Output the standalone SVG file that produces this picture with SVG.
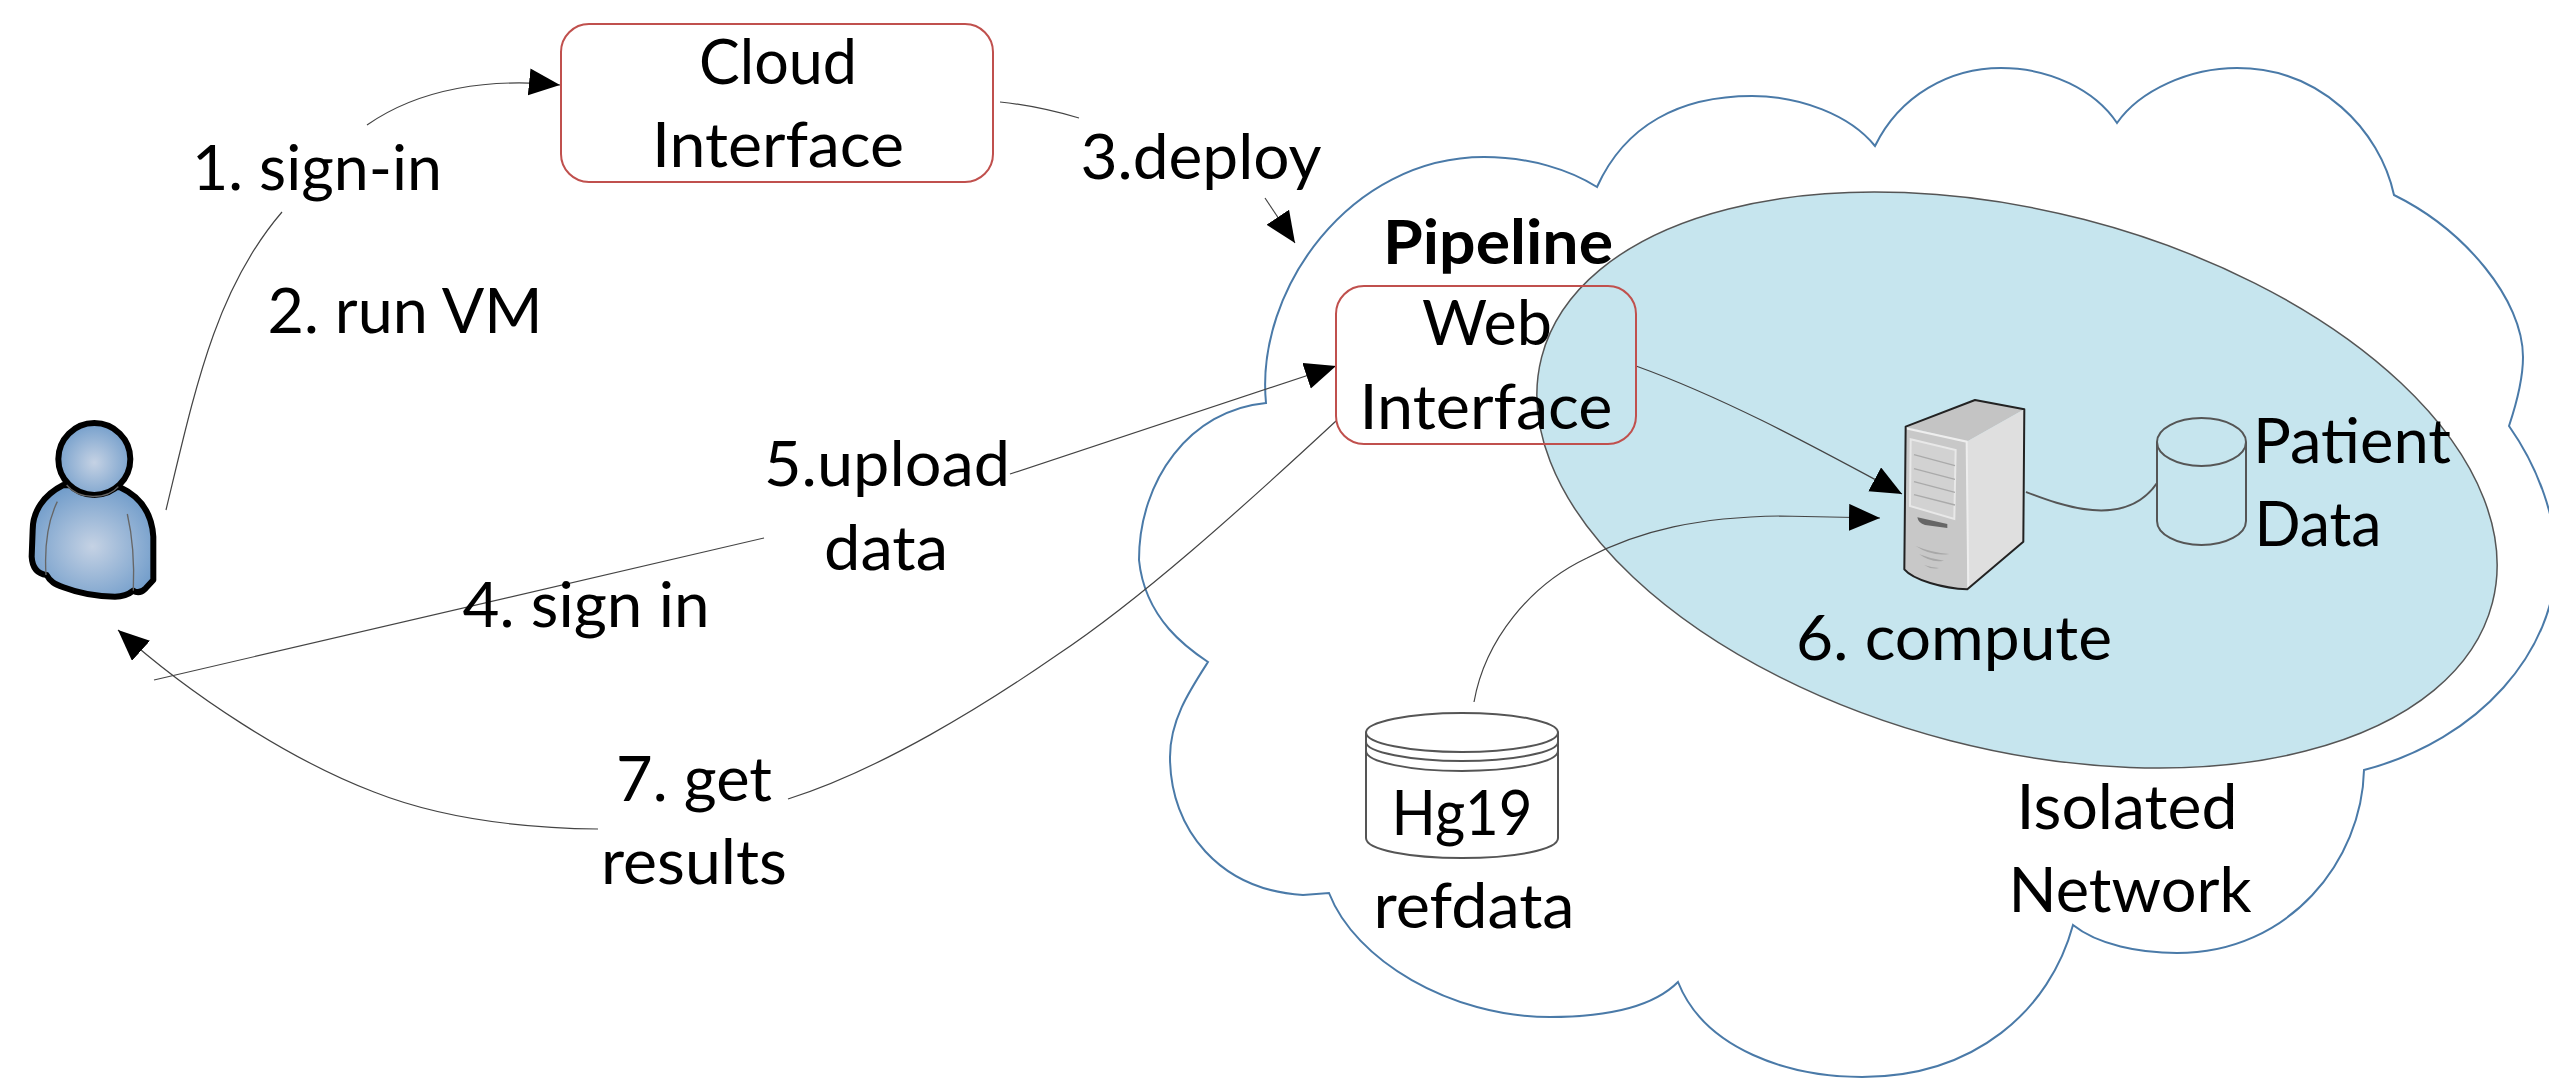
<svg xmlns="http://www.w3.org/2000/svg" width="2549" height="1079" viewBox="0 0 2549 1079">
<style>
.t{font-family:Lato,"Open Sans","Liberation Sans",sans-serif;font-size:62px;fill:#000;text-anchor:middle}
.b{font-weight:700}
.c{fill:none;stroke:#444;stroke-width:1.2}
.a{marker-end:url(#arrow)}
.box{fill:none;stroke:#c0504d;stroke-width:2}
.db{stroke:#555;stroke-width:2}
.sg{fill:none;stroke:#666;stroke-width:4}
</style>
<defs>
<marker id="arrow" markerUnits="userSpaceOnUse" markerWidth="32" markerHeight="28" refX="31" refY="13.5" orient="auto"><path d="M0,0L31,13.5L0,27z" fill="#000"/></marker>
<radialGradient id="pg" cx="0.5" cy="0.55" r="0.62"><stop offset="0" stop-color="#c5d2e4"/><stop offset="1" stop-color="#6a98c8"/></radialGradient>
</defs>
<rect width="2549" height="1079" fill="#fff"/>
<g id="isolated-network">
<path d="M1266,403C1255,290 1350,157 1484,157C1530,157 1570,170 1597,187C1625,125 1680,96 1752,96C1800,96 1850,115 1875,146C1900,95 1950,68 2001,68C2050,68 2095,90 2117,123C2140,90 2190,68 2237,68C2320,68 2380,130 2394,195C2465,230 2523,300 2523,357C2523,380 2516,405 2509,426C2540,470 2556,520 2556,560C2556,650 2480,740 2364,770C2362,860 2290,953 2177,953C2140,953 2098,945 2073,925C2050,1010 1975,1077 1862,1077C1790,1077 1705,1050 1678,982C1650,1010 1600,1017 1550,1017C1450,1017 1355,960 1329,893L1303,895C1220,890 1170,830 1170,757C1170,720 1190,690 1208,662C1190,650 1145,620 1139,560C1139,480 1190,410 1266,403Z" fill="#fff" stroke="#4a7aa8" stroke-width="2"/>
<text class="t" x="2127" y="829" textLength="221" lengthAdjust="spacingAndGlyphs">Isolated</text>
<text class="t" x="2130" y="912" textLength="243" lengthAdjust="spacingAndGlyphs">Network</text>
</g>
<g id="vm-ellipse">
<ellipse cx="2017" cy="480" rx="491" ry="269" transform="rotate(14.5 2017 480)" fill="#c6e5ee" stroke="#555" stroke-width="1.5"/>
</g>
<g id="connectors">
<path class="c a" d="M367,125C420,88 490,78 560,85"/>
<path class="c" d="M282,212C215,290 195,390 166,510"/>
<path class="c" d="M1000,102C1030,105 1055,111 1079,118"/>
<path class="c a" d="M1265,198L1295,243"/>
<path class="c a" d="M1010,474L1336,366"/>
<path class="c" d="M154,680L764,538"/>
<path class="c" d="M1336,421C1240,510 1140,600 1057,655C985,705 880,770 788,799"/>
<path class="c a" d="M598,829C520,828 440,818 374,792C290,760 190,695 118,630"/>
<path class="c a" d="M1636,366C1730,400 1820,450 1902,494"/>
<path class="c a" d="M1474,702C1485,640 1530,585 1587,558C1640,530 1700,517 1780,516L1880,518"/>
<path class="c" d="M2026,492C2060,505 2125,530 2157,483" style="stroke:#555;stroke-width:2"/>
</g>
<g id="user" transform="translate(0,380) scale(.3333)">
<path d="M190,315C130,345 98,395 98,450L95,530C97,565 115,582 140,585C150,605 165,612 190,622C250,645 300,650 345,650C370,650 390,640 400,632C412,640 425,637 437,625L460,600L460,470C455,390 410,345 360,322Z" fill="url(#pg)" stroke="#000" stroke-width="18" stroke-linejoin="round"/>
<circle cx="283" cy="237" r="108" fill="url(#pg)" stroke="#000" stroke-width="18"/>
<path class="sg" d="M200,315C235,360 320,360 355,320"/>
<path class="sg" d="M172,365C140,430 133,500 138,585"/>
<path class="sg" d="M382,402C400,480 403,560 400,632"/>
</g>
<g id="server" transform="translate(1860,370) scale(.3333)">
<path d="M137,170L345,90L493,118L320,215Z" fill="#c4c4c4"/>
<path d="M320,215L493,118L490,515L322,658Z" fill="#dfdfdf"/>
<path d="M137,170L320,215L322,658C250,655 160,630 133,598Z" fill="#c8c8c8"/>
<path d="M137,175L320,215L325,658" fill="none" stroke="#eee" stroke-width="6"/>
<path d="M137,170L345,90L493,118L490,515L322,658C250,655 160,630 133,598Z" fill="none" stroke="#222" stroke-width="6" stroke-linejoin="round"/>
<path d="M152,208L287,240L283,447L150,408Z" fill="#d2d2d2" stroke="#e8e8e8" stroke-width="6"/>
<path d="M162,254L285,287M162,296L285,328M162,335L285,367M162,374L285,405" stroke="#aaa" stroke-width="4" fill="none"/>
<path d="M172,442L262,462L262,474L195,465Q175,460 172,442Z" fill="#666"/>
<path d="M167,528Q215,548 268,552Q215,560 167,528ZM178,553Q215,568 252,572Q215,580 178,553ZM192,585Q215,592 237,594Q215,600 192,585Z" fill="#a8a8a8"/>
</g>
<g id="patient-data">
<path class="db" fill="none" d="M2157,442V521A44.500,24 0 0 0 2246,521V442"/>
<ellipse class="db" cx="2201.500" cy="442" rx="44.500" ry="24" fill="none"/>
<text class="t" x="2352" y="463" textLength="198" lengthAdjust="spacingAndGlyphs">Patient</text>
<text class="t" x="2318" y="546" textLength="127" lengthAdjust="spacingAndGlyphs">Data</text>
</g>
<g id="hg19">
<path class="db" fill="#fff" stroke-width="1.500" d="M1366,732.500V838C1366,850 1410,858 1462,858C1514,858 1558,850 1558,838V732.500Z"/>
<path class="db" fill="none" d="M1366,742C1366,752 1410,761 1462,761C1514,761 1558,752 1558,742M1366,751C1366,762 1410,771 1462,771C1514,771 1558,762 1558,751"/>
<ellipse class="db" cx="1462" cy="732.500" rx="96" ry="19.500" fill="#fff"/>
<text class="t" x="1462" y="835" textLength="141" lengthAdjust="spacingAndGlyphs">Hg19</text>
<text class="t" x="1474" y="928" textLength="201" lengthAdjust="spacingAndGlyphs">refdata</text>
</g>
<g id="cloud-interface">
<rect class="box" x="561" y="24" width="432" height="158" rx="28"/>
<text class="t" x="778" y="84" textLength="158" lengthAdjust="spacingAndGlyphs">Cloud</text>
<text class="t" x="778" y="167" textLength="252" lengthAdjust="spacingAndGlyphs">Interface</text>
</g>
<g id="pipeline-web-interface">
<rect class="box" x="1336" y="286" width="300" height="158" rx="28"/>
<text class="t b" x="1498" y="264" textLength="230" lengthAdjust="spacingAndGlyphs">Pipeline</text>
<text class="t" x="1487" y="345" textLength="130" lengthAdjust="spacingAndGlyphs">Web</text>
<text class="t" x="1486" y="429" textLength="253" lengthAdjust="spacingAndGlyphs">Interface</text>
</g>
<g id="labels">
<text class="t" x="317" y="190" textLength="250" lengthAdjust="spacingAndGlyphs">1. sign-in</text>
<text class="t" x="405" y="333" textLength="275" lengthAdjust="spacingAndGlyphs">2. run VM</text>
<text class="t" x="1201" y="179" textLength="241" lengthAdjust="spacingAndGlyphs">3.deploy</text>
<text class="t" x="586" y="627" textLength="247" lengthAdjust="spacingAndGlyphs">4. sign in</text>
<text class="t" x="887" y="486" textLength="246" lengthAdjust="spacingAndGlyphs">5.upload</text>
<text class="t" x="886" y="570" textLength="124" lengthAdjust="spacingAndGlyphs">data</text>
<text class="t" x="1954" y="660" textLength="316" lengthAdjust="spacingAndGlyphs">6. compute</text>
<text class="t" x="694" y="801" textLength="156" lengthAdjust="spacingAndGlyphs">7. get</text>
<text class="t" x="694" y="884" textLength="186" lengthAdjust="spacingAndGlyphs">results</text>
</g>
</svg>
